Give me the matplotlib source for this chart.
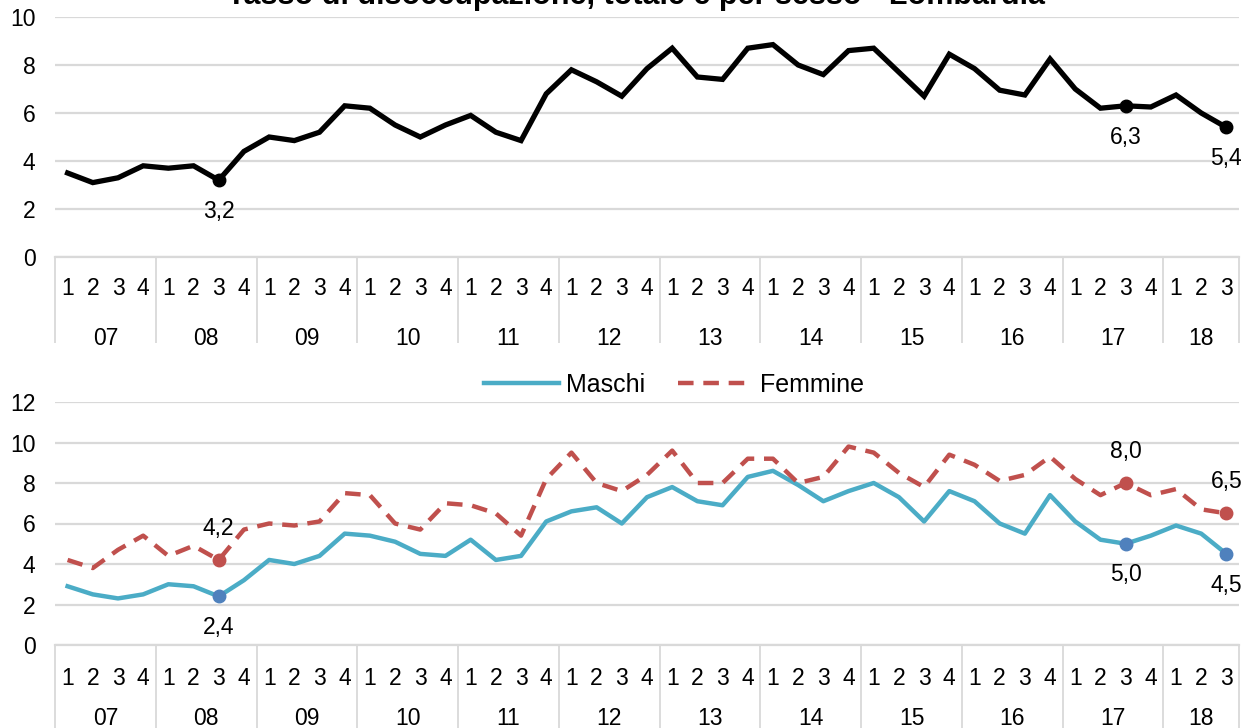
import matplotlib
matplotlib.use("Agg")
import matplotlib.pyplot as plt

plt.rcParams['font.family'] = ['Liberation Sans', 'DejaVu Sans']

years = ["07", "08", "09", "10", "11", "12", "13", "14", "15", "16", "17", "18"]
quarters = ["1", "2", "3", "4"] * 11 + ["1", "2", "3"]

totale = [3.5, 3.1, 3.3, 3.8, 3.7, 3.8, 3.2, 4.4,
          5.0, 4.85, 5.2, 6.3, 6.2, 5.5, 5.0, 5.5,
          5.9, 5.2, 4.85, 6.8, 7.8, 7.3, 6.7, 7.85,
          8.7, 7.5, 7.4, 8.7, 8.85, 8.0, 7.6, 8.6,
          8.7, 7.7, 6.7, 8.45, 7.85, 6.95, 6.75, 8.25,
          7.0, 6.2, 6.3, 6.25, 6.75, 6.0, 5.4]

maschi = [2.9, 2.5, 2.3, 2.5, 3.0, 2.9, 2.4, 3.2,
          4.2, 4.0, 4.4, 5.5, 5.4, 5.1, 4.5, 4.4,
          5.2, 4.2, 4.4, 6.1, 6.6, 6.8, 6.0, 7.3,
          7.8, 7.1, 6.9, 8.3, 8.6, 7.9, 7.1, 7.6,
          8.0, 7.3, 6.1, 7.6, 7.1, 6.0, 5.5, 7.4,
          6.1, 5.2, 5.0, 5.4, 5.9, 5.5, 4.5]

femmine = [4.2, 3.8, 4.7, 5.4, 4.4, 4.9, 4.2, 5.7,
           6.0, 5.9, 6.1, 7.5, 7.4, 6.0, 5.7, 7.0,
           6.9, 6.5, 5.4, 8.2, 9.5, 8.0, 7.6, 8.4,
           9.6, 8.0, 8.0, 9.2, 9.2, 8.0, 8.3, 9.8,
           9.5, 8.5, 7.8, 9.4, 8.9, 8.1, 8.4, 9.3,
           8.2, 7.4, 8.0, 7.4, 7.7, 6.7, 6.5]

highlight = [6, 42, 46]  # 08Q3, 17Q3, 18Q3

GRID = "#d9d9d9"
FS = 16.5
n = len(quarters)
xs = list(range(n))

fig = plt.figure(figsize=(12.54, 7.28), dpi=100)
ax1 = fig.add_axes([55 / 1254, 1 - 257 / 728, (1239 - 55) / 1254, (257 - 17) / 728])
ax2 = fig.add_axes([55 / 1254, 1 - 645 / 728, (1239 - 55) / 1254, (645 - 402) / 728])


def setup(ax, ymax, qpad, ypad):
    ax.set_xlim(-0.5, n - 0.5)
    ax.set_ylim(0, ymax)
    ax.set_yticks(range(0, ymax + 1, 2))
    ax.grid(axis="y", color=GRID, linewidth=1.6)
    ax.set_axisbelow(True)
    for s in ["top", "right", "left"]:
        ax.spines[s].set_visible(False)
    ax.spines["bottom"].set_color(GRID)
    ax.spines["bottom"].set_linewidth(1.6)
    ax.tick_params(axis="y", length=0, pad=14, labelsize=FS)
    ax.set_xticks(xs)
    ax.set_xticklabels(quarters)
    ax.tick_params(axis="x", which="major", length=0, pad=qpad, labelsize=FS)
    bounds = [-0.5] + [4 * i + 3.5 for i in range(11)] + [n - 0.5]
    ax.set_xticks(bounds, minor=True)
    ax.tick_params(axis="x", which="minor", length=62, width=1.3, color=GRID)
    sec = ax.secondary_xaxis("bottom")
    centers = [4 * i + 1.5 for i in range(11)] + [45]
    sec.set_xticks(centers)
    sec.set_xticklabels(years)
    sec.tick_params(axis="x", length=0, pad=ypad, labelsize=FS)
    sec.spines["bottom"].set_visible(False)


setup(ax1, 10, 14.5, 50.5)
setup(ax2, 12, 16, 44.5)

# top panel
ax1.plot(xs, totale, color="black", linewidth=3.8, solid_joinstyle="miter")
ax1.plot([xs[i] for i in highlight], [totale[i] for i in highlight], "o",
         color="black", markersize=9)
for i in highlight:
    ax1.annotate(f"{totale[i]:.1f}".replace(".", ","), (xs[i], totale[i]),
                 xytext=(0, -22.5), textcoords="offset points",
                 ha="center", va="center", fontsize=FS)

fig.text(0.507, 1 - 4 / 728, "Tasso di disoccupazione, totale e per sesso - Lombardia",
         ha="center", va="baseline", fontsize=22, fontweight="bold")

# bottom panel
ax2.plot(xs, maschi, color="#4bacc6", linewidth=3.2, label="Maschi")
ax2.plot(xs, femmine, color="#c0504d", linewidth=3.2, linestyle=(0, (3.5, 2.2)),
         label="Femmine")
ax2.plot([xs[i] for i in highlight], [maschi[i] for i in highlight], "o",
         color="#4f81bd", markersize=9)
ax2.plot([xs[i] for i in highlight], [femmine[i] for i in highlight], "o",
         color="#c0504d", markersize=9)
for i in highlight:
    ax2.annotate(f"{maschi[i]:.1f}".replace(".", ","), (xs[i], maschi[i]),
                 xytext=(0, -22.5), textcoords="offset points",
                 ha="center", va="center", fontsize=FS)
    ax2.annotate(f"{femmine[i]:.1f}".replace(".", ","), (xs[i], femmine[i]),
                 xytext=(0, 23), textcoords="offset points",
                 ha="center", va="center", fontsize=FS)

fig.legend(loc="center", bbox_to_anchor=(674 / 1254, 1 - 385 / 728), ncol=2,
           frameon=False, fontsize=18, handlelength=3.0, columnspacing=1.3,
           handletextpad=0.3)

fig.savefig("out.png", dpi=100)
